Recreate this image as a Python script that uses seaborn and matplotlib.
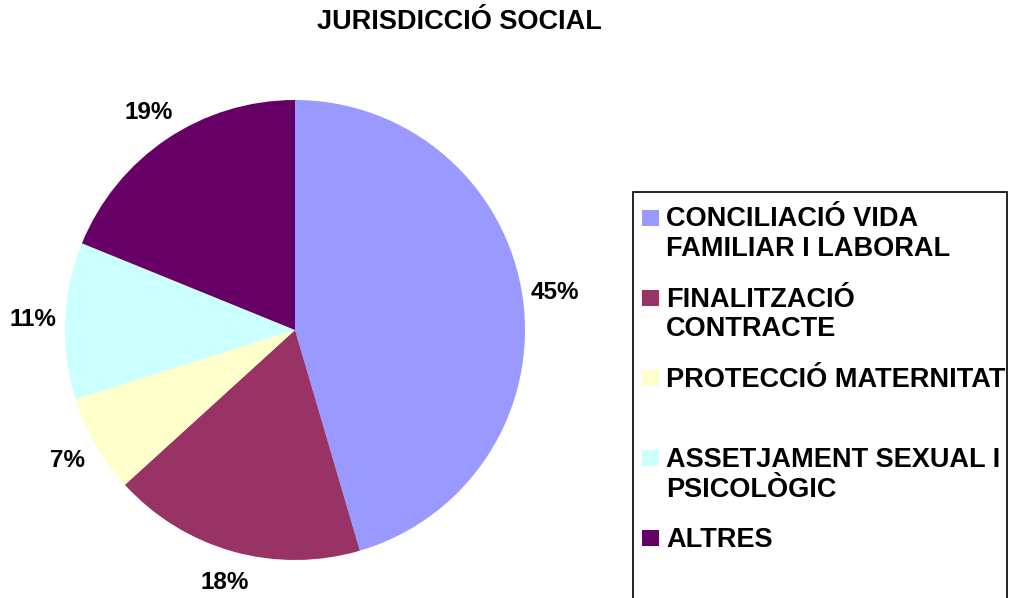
import matplotlib
matplotlib.use("Agg")
import matplotlib.pyplot as plt
import seaborn as sns
from matplotlib.patches import Rectangle

categories = ["CONCILIACIÓ VIDA\nFAMILIAR I LABORAL", "FINALITZACIÓ\nCONTRACTE",
              "PROTECCIÓ MATERNITAT", "ASSETJAMENT SEXUAL I\nPSICOLÒGIC", "ALTRES"]
values = [45.45, 17.8, 6.9, 11.0, 18.85]
colors = ["#9999FF", "#993366", "#FFFFCC", "#CCFFFF", "#660066"]
title = "JURISDICCIÓ SOCIAL"

sns.set_theme(style="white")
plt.rcParams["font.family"] = ["Liberation Sans", "DejaVu Sans"]

W, H = 1009, 598
fig = plt.figure(figsize=(W / 100, H / 100), dpi=100)
fig.patch.set_facecolor("white")

cx, cy, r = 295, 330, 230
ax = fig.add_axes([(cx - r) / W, (H - cy - r) / H, 2 * r / W, 2 * r / H])
palette = sns.color_palette(colors)
ax.pie(values, colors=palette, startangle=90, counterclock=False,
       autopct="%1.0f%%", pctdistance=1.14, radius=1,
       wedgeprops=dict(linewidth=0),
       textprops=dict(fontsize=17.5, fontweight="bold", color="black"))
ax.set_xlim(-1, 1)
ax.set_ylim(-1, 1)
ax.axis("off")

fig.text(459 / W, 1 - 22 / H, title, ha="center", va="center",
         fontsize=19.5, fontweight="bold", color="black")

# legend frame
fig.patches.append(Rectangle((633 / W, -0.05), (1007 - 633) / W, (H - 192) / H + 0.05,
                             transform=fig.transFigure, facecolor="white",
                             edgecolor="black", linewidth=1.2, zorder=1))
for i, (lab, col) in enumerate(zip(categories, palette)):
    y = 217.5 + 80.2 * i
    fig.patches.append(Rectangle((642 / W, 1 - (y + 8) / H), 17 / W, 16 / H,
                                 transform=fig.transFigure, facecolor=col,
                                 edgecolor="none", zorder=2))
    fig.text(666 / W, 1 - (y - 11) / H, lab, ha="left", va="top",
             fontsize=19.5, fontweight="bold", color="black", linespacing=1.17, zorder=3)

fig.savefig("out.png", dpi=100)
